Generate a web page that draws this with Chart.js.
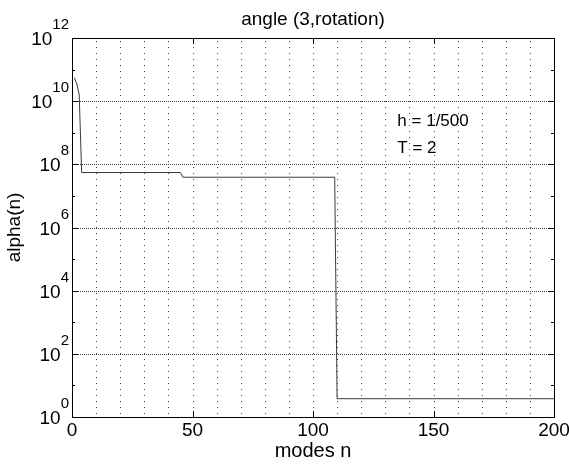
<!DOCTYPE html>
<html>
<head>
<meta charset="utf-8">
<script src="https://cdn.jsdelivr.net/npm/chart.js@4"></script>
<style>
html, body { margin: 0; padding: 0; background: #fff; }
#wrap { width: 569px; height: 464px; }
</style>
</head>
<body>
<div id="wrap"><canvas id="chart" width="569" height="464"></canvas></div>
<script>
// values (n, alpha(n)) at the break points of the curve
const modes = [1, 2, 3, 4, 45, 46, 109, 110, 200];
const alpha = [5.5e10, 3.5e10, 1.6e10, 5.5e7, 5.5e7, 3.9e7, 3.9e7, 3.8, 3.8];

const xTicks = [0, 50, 100, 150, 200];
const xGrid = [10, 20, 30, 40, 50, 60, 70, 80, 90, 100, 110, 120, 130, 140, 150, 160, 170, 180, 190];
const yTickExps = [0, 2, 4, 6, 8, 10, 12];
const yMinorExps = [1, 3, 5, 7, 9, 11];
const yGridExps = [2, 4, 6, 8, 10];

const titleText = 'angle (3,rotation)';
const xLabel = 'modes n';
const yLabel = 'alpha(n)';
const notes = ['h = 1/500', 'T = 2'];

const FONT = '"Liberation Sans", Arial, Helvetica, sans-serif';

const axesPlugin = {
    id: 'matlabAxes',
    beforeDatasetsDraw(chart) {
        const { ctx, chartArea: a, scales: { x, y } } = chart;
        ctx.save();
        ctx.lineWidth = 1;
        ctx.strokeStyle = '#444';
        // sparse dotted verticals
        ctx.setLineDash([1, 5]);
        xGrid.forEach(v => {
            const px = Math.round(x.getPixelForValue(v)) + 0.5;
            ctx.beginPath();
            ctx.moveTo(px, a.bottom - 3);
            ctx.lineTo(px, a.top);
            ctx.stroke();
        });
        // dense dotted horizontals
        ctx.setLineDash([1, 1]);
        yGridExps.forEach(e => {
            const py = Math.round(y.getPixelForValue(10 ** e)) + 0.5;
            ctx.beginPath();
            ctx.moveTo(a.left, py);
            ctx.lineTo(a.right, py);
            ctx.stroke();
        });
        ctx.restore();
    },
    afterDraw(chart) {
        const { ctx, chartArea: a, scales: { x, y } } = chart;
        ctx.save();
        ctx.strokeStyle = '#000';
        ctx.fillStyle = '#000';
        ctx.lineWidth = 1;
        ctx.setLineDash([]);

        // box
        ctx.strokeRect(a.left + 0.5, a.top + 0.5, a.right - a.left, a.bottom - a.top);

        // x ticks (inward, top and bottom)
        xTicks.forEach(v => {
            const px = Math.round(x.getPixelForValue(v)) + 0.5;
            ctx.beginPath();
            ctx.moveTo(px, a.bottom); ctx.lineTo(px, a.bottom - 6);
            ctx.moveTo(px, a.top); ctx.lineTo(px, a.top + 6);
            ctx.stroke();
        });

        // y ticks (inward, left and right)
        const yTick = (e, len) => {
            const py = Math.round(y.getPixelForValue(10 ** e)) + 0.5;
            ctx.beginPath();
            ctx.moveTo(a.left, py); ctx.lineTo(a.left + len, py);
            ctx.moveTo(a.right, py); ctx.lineTo(a.right - len, py);
            ctx.stroke();
        };
        yTickExps.forEach(e => yTick(e, 6));
        yMinorExps.forEach(e => yTick(e, 3));

        // x tick labels
        ctx.font = '19px ' + FONT;
        ctx.textAlign = 'center';
        ctx.textBaseline = 'alphabetic';
        xTicks.forEach(v => {
            ctx.fillText(String(v), x.getPixelForValue(v), a.bottom + 19);
        });

        // y tick labels 10^e
        yTickExps.forEach(e => {
            const py = y.getPixelForValue(10 ** e);
            ctx.font = '15px ' + FONT;
            const supW = ctx.measureText(String(e)).width;
            ctx.textAlign = 'left';
            ctx.fillText(String(e), a.left - 3 - supW, py - 9);
            ctx.font = '19px ' + FONT;
            ctx.textAlign = 'right';
            ctx.fillText('10', a.left - 3 - supW, py + 7);
        });

        // title and axis labels
        const cx = (a.left + a.right) / 2;
        ctx.textAlign = 'center';
        ctx.font = '19px ' + FONT;
        ctx.fillText(titleText, cx, 25);
        ctx.font = '20px ' + FONT;
        ctx.fillText(xLabel, cx, 457);

        ctx.save();
        ctx.translate(20, (a.top + a.bottom) / 2);
        ctx.rotate(-Math.PI / 2);
        ctx.font = '19px ' + FONT;
        ctx.fillText(yLabel, 0, 0);
        ctx.restore();

        // annotations
        ctx.font = '17px ' + FONT;
        ctx.textAlign = 'left';
        const nx = x.getPixelForValue(135);
        ctx.fillText(notes[0], nx, y.getPixelForValue(10 ** 9.22));
        ctx.fillText(notes[1], nx, y.getPixelForValue(10 ** 8.35));
        ctx.restore();
    }
};

const ctx = document.getElementById('chart').getContext('2d');
const chart = new Chart(ctx, {
    type: 'line',
    data: {
        datasets: [{
            data: modes.map((n, i) => ({ x: n, y: alpha[i] })),
            borderColor: '#3a3a3a',
            borderWidth: 1,
            pointRadius: 0,
            tension: 0,
            fill: false
        }]
    },
    options: {
        responsive: false,
        animation: false,
        devicePixelRatio: 1,
        layout: { padding: { left: 72, right: 15, top: 38, bottom: 47 } },
        plugins: {
            legend: { display: false },
            tooltip: { enabled: false },
            title: { display: false }
        },
        scales: {
            x: { type: 'linear', min: 0, max: 200, display: false },
            y: { type: 'logarithmic', min: 1, max: 1e12, display: false }
        }
    },
    plugins: [axesPlugin]
});
</script>
</body>
</html>
